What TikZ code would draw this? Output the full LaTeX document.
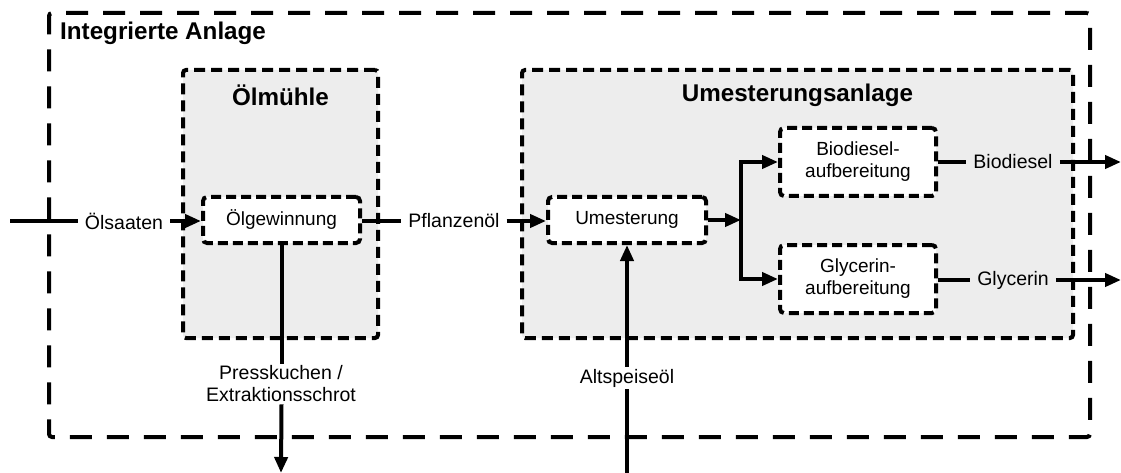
\documentclass[tikz,border=0pt]{standalone}
\usepackage{fontspec}
\setmainfont{Liberation Sans}
\usetikzlibrary{arrows.meta}
\begin{document}
\begin{tikzpicture}[x=1pt,y=-1pt,
  outerbox/.style={draw, line width=4pt, dash pattern=on 22pt off 15pt, rounded corners=3pt, inner sep=0pt},
  unitbox/.style={draw, line width=4pt, dash pattern=on 11pt off 6pt, fill=black!7, rounded corners=3pt, inner sep=0pt},
  procbox/.style={draw, line width=4pt, dash pattern=on 10pt off 5pt, fill=white, rounded corners=4pt, inner sep=0pt, align=center, font=\fontsize{19}{22}\selectfont},
  flow/.style={line width=4pt},
  arr/.style={flow, -{Triangle[length=16pt,width=13pt]}},
  lbl/.style={inner xsep=7pt, inner ysep=2pt, align=center, font=\fontsize{19.5}{22}\selectfont},
  heading/.style={font=\bfseries\fontsize{24.2}{27}\selectfont, inner sep=0pt}
]
\useasboundingbox (0,0) rectangle (1121,473);

% containers
\node[outerbox, minimum width=1041pt, minimum height=424pt] (anlage) at (569.5,225) {};
\node[heading, anchor=west] (anlagetitle) at (60,33) {Integrierte Anlage};

\node[unitbox, minimum width=195pt, minimum height=268pt] (muehle) at (280.5,204) {};
\node[heading] (muehletitle) at (280.5,95) {Ölmühle};

\node[unitbox, minimum width=551pt, minimum height=268pt] (umanlage) at (797.5,204) {};
\node[heading] (umanlagetitle) at (797.5,95) {Umesterungsanlage};

% process steps
\node[procbox, minimum width=157pt, minimum height=46pt] (olg) at (281.5,220) {Ölgewinnung};
\node[procbox, minimum width=158pt, minimum height=46pt] (ume) at (627,220) {Umesterung};
\node[procbox, minimum width=156pt, minimum height=68pt] (bio) at (858,162) {Biodiesel-\\aufbereitung};
\node[procbox, minimum width=156pt, minimum height=68pt] (gly) at (858,279) {Glycerin-\\aufbereitung};

% stream labels
\node[lbl] (saat) at (124,221) {Ölsaaten};
\node[lbl] (pfl) at (454,221) {Pflanzenöl};
\node[lbl] (press) at (281,384) {Presskuchen /\\Extraktionsschrot};
\node[lbl] (alt) at (627,378) {Altspeiseöl};
\node[lbl] (biol) at (1013,162) {Biodiesel};
\node[lbl] (glyl) at (1013,280) {Glycerin};

\coordinate (in) at (10,221);
\coordinate (split) at (741,220);
\coordinate (pressout) at (281,473);
\coordinate (altin) at (627,473);
\coordinate (bioout) at (1121,162);
\coordinate (glyout) at (1121,280);

% flows
\draw[flow] (in) -- (saat.west);
\draw[arr] (saat.east) -- (olg.west |- saat.east);
\draw[flow] (olg.east |- pfl.west) -- (pfl.west);
\draw[arr] (pfl.east) -- (ume.west |- pfl.east);
\draw[flow] (olg.south) -- (olg.south |- press.north);
\draw[arr] (olg.south |- press.south) -- (pressout);
\draw[flow] (altin) -- (alt.south);
\draw[arr] (alt.north) -- (ume.south);
\draw[arr] (ume.east) -- (split);
\draw[arr] (split) |- (bio.west);
\draw[arr] (split) |- (gly.west);
\draw[flow] (bio.east) -- (biol.west);
\draw[arr] (biol.east) -- (bioout);
\draw[flow] (gly.east |- glyl.west) -- (glyl.west);
\draw[arr] (glyl.east) -- (glyout);
\end{tikzpicture}
\end{document}
